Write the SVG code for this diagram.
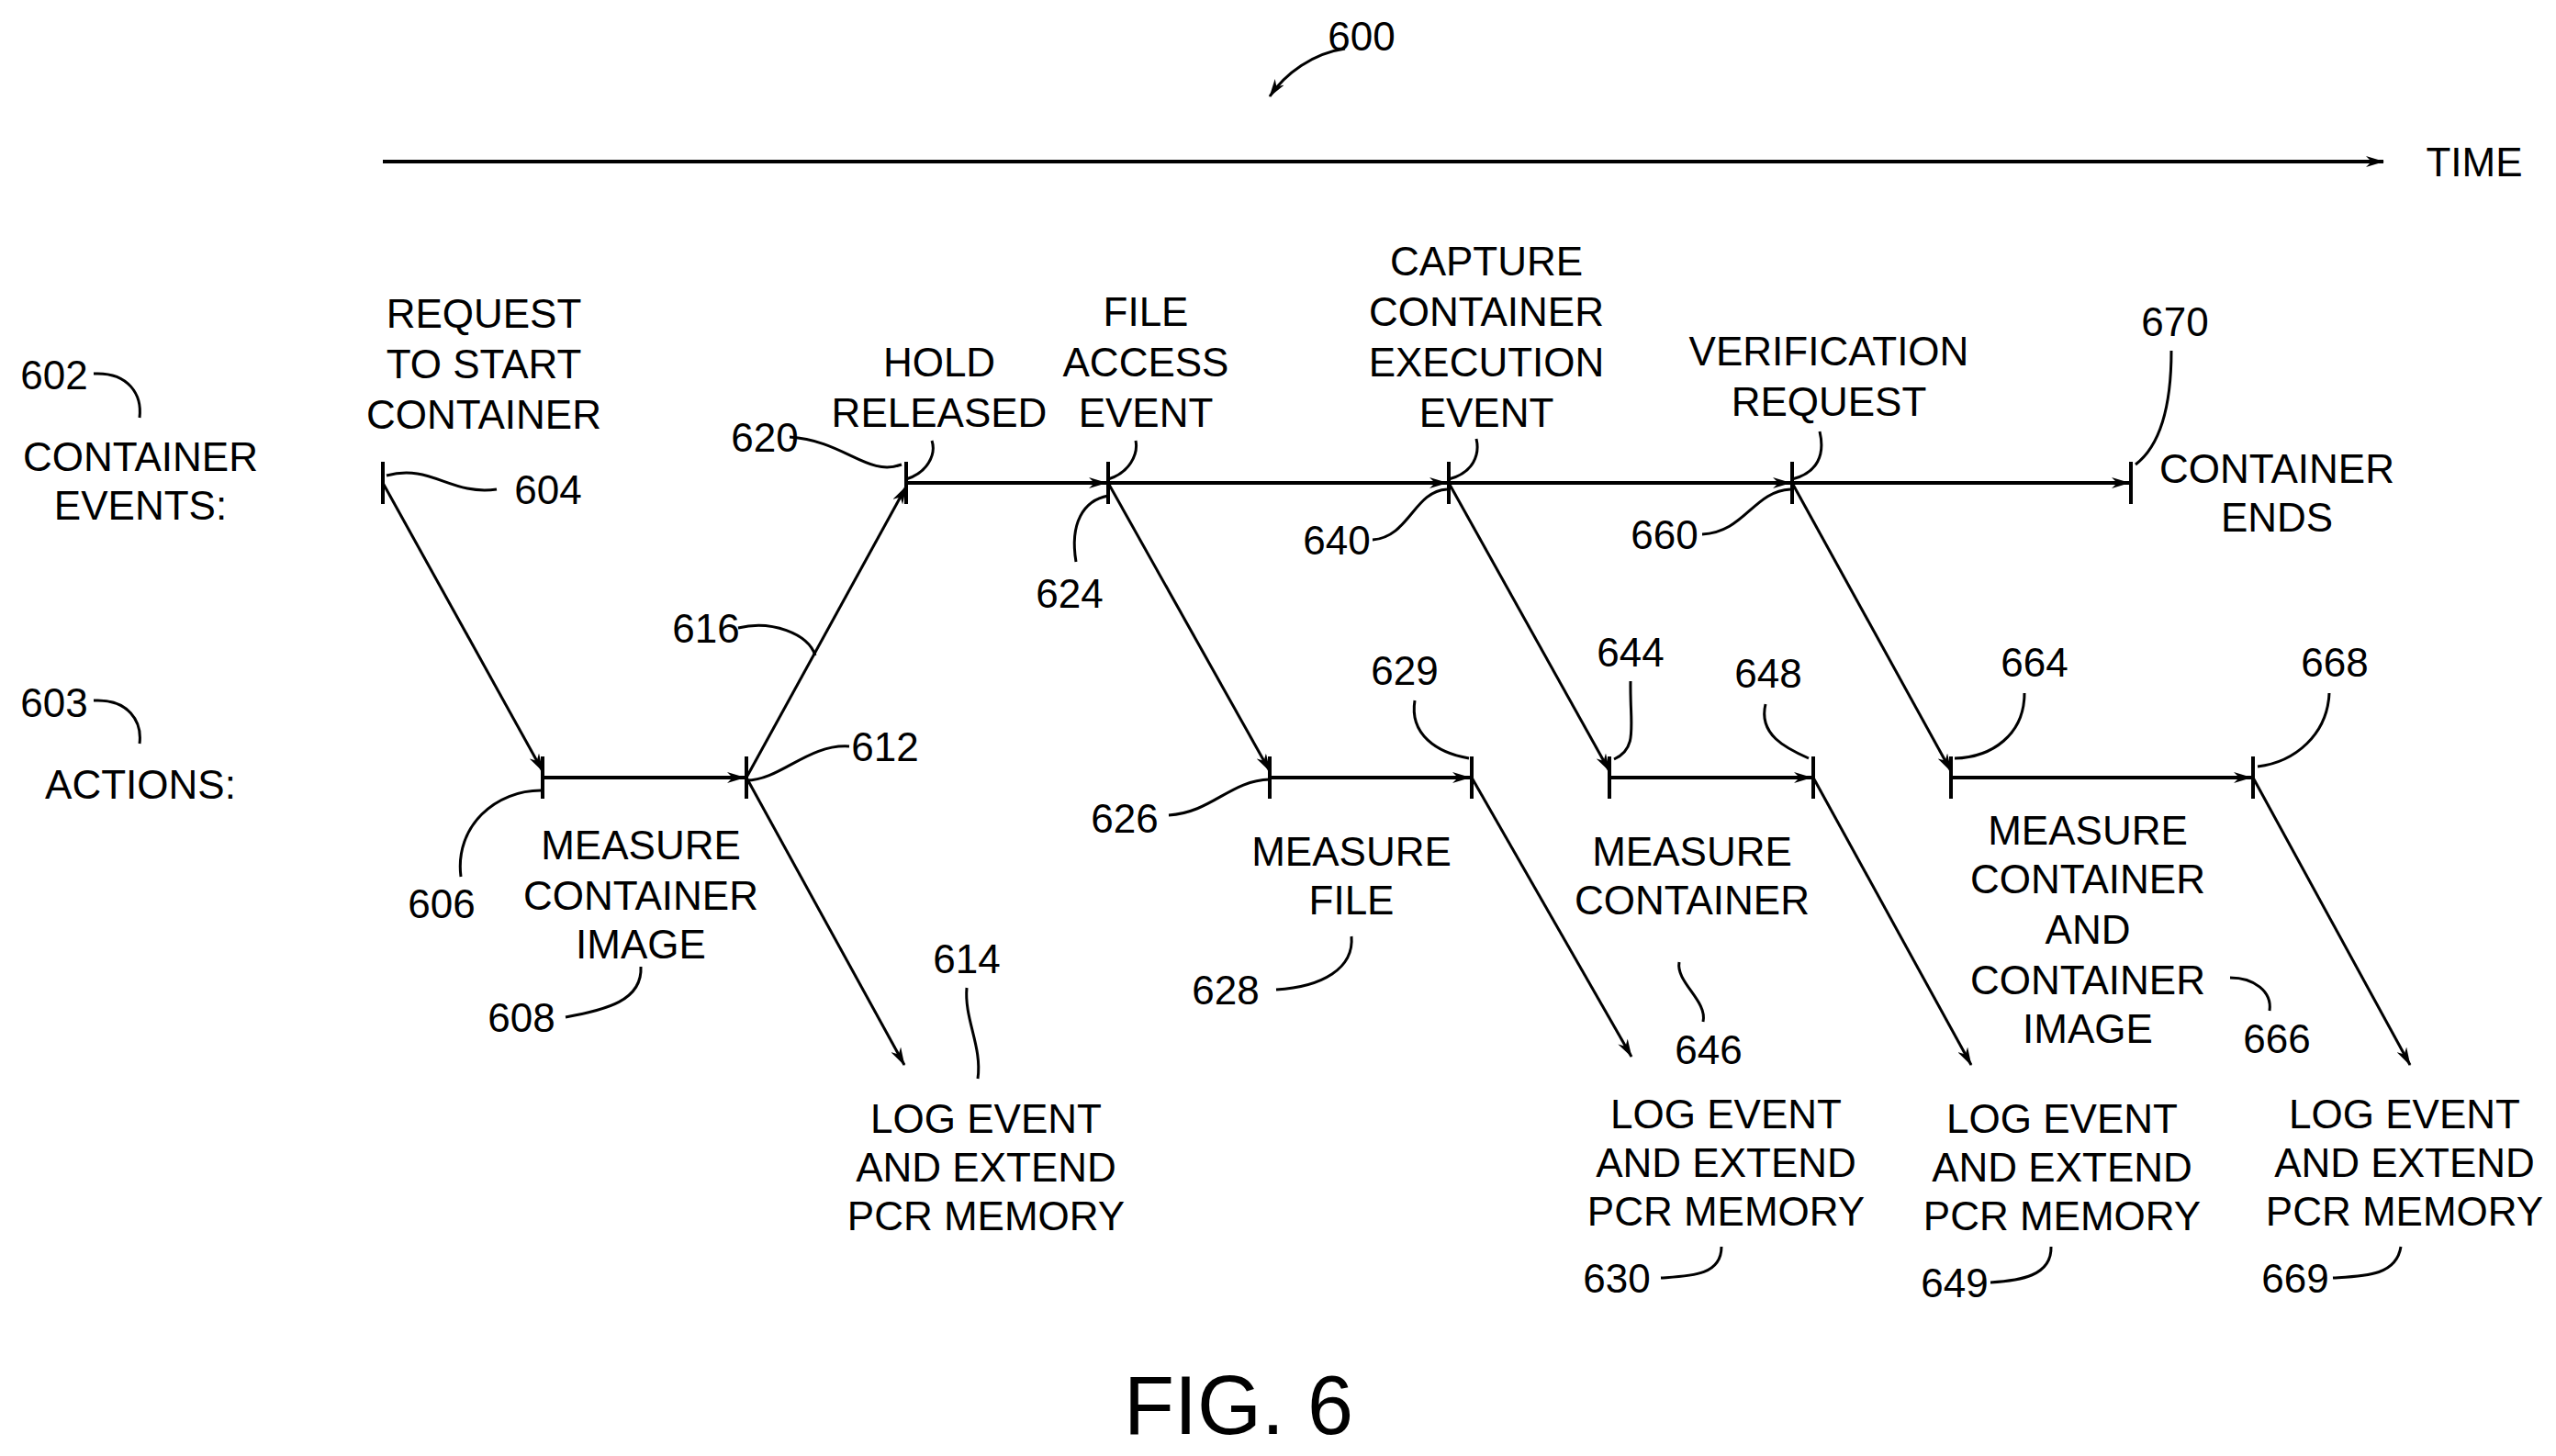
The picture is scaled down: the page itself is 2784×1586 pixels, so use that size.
<svg xmlns="http://www.w3.org/2000/svg" width="2784" height="1586" viewBox="0 0 2784 1586">
<style>
text{font-family:"Liberation Sans",Arial,sans-serif;font-size:44px;fill:#000;text-anchor:middle}
.ln{stroke:#000;stroke-width:4;fill:none}
.ar{stroke:#000;stroke-width:3;fill:none}
.ld{stroke:#000;stroke-width:3;fill:none}
.tk{stroke:#000;stroke-width:4}
</style>
<defs>
<marker id="a" viewBox="0 0 20 12" refX="19" refY="6" markerWidth="20" markerHeight="12" markerUnits="userSpaceOnUse" orient="auto"><path d="M0,0 L20,6 L0,12 L6,6 Z" fill="#000"/></marker>
</defs>
<rect width="2784" height="1586" fill="#fff"/>
<g id="connectors">
<line class="ln" x1="417" y1="176" x2="2596" y2="176" marker-end="url(#a)"/>
<path class="ld" d="M1465,53 C1430,58 1400,80 1383,105" marker-end="url(#a)"/>
<line class="ln" x1="987" y1="526" x2="1205" y2="526" marker-end="url(#a)"/>
<line class="ln" x1="1207" y1="526" x2="1576" y2="526" marker-end="url(#a)"/>
<line class="ln" x1="1578" y1="526" x2="1950" y2="526" marker-end="url(#a)"/>
<line class="ln" x1="1952" y1="526" x2="2319" y2="526" marker-end="url(#a)"/>
<line class="ln" x1="591" y1="847" x2="811" y2="847" marker-end="url(#a)"/>
<line class="ln" x1="1383" y1="847" x2="1601" y2="847" marker-end="url(#a)"/>
<line class="ln" x1="1753" y1="847" x2="1973" y2="847" marker-end="url(#a)"/>
<line class="ln" x1="2125" y1="847" x2="2452" y2="847" marker-end="url(#a)"/>
<line class="ar" x1="417" y1="526" x2="591" y2="840" marker-end="url(#a)"/>
<line class="ar" x1="813" y1="847" x2="987" y2="530" marker-end="url(#a)"/>
<line class="ar" x1="813" y1="847" x2="985" y2="1160" marker-end="url(#a)"/>
<line class="ar" x1="1207" y1="526" x2="1383" y2="840" marker-end="url(#a)"/>
<line class="ar" x1="1603" y1="847" x2="1777" y2="1151" marker-end="url(#a)"/>
<line class="ar" x1="1578" y1="526" x2="1753" y2="840" marker-end="url(#a)"/>
<line class="ar" x1="1975" y1="847" x2="2147" y2="1160" marker-end="url(#a)"/>
<line class="ar" x1="1952" y1="526" x2="2125" y2="840" marker-end="url(#a)"/>
<line class="ar" x1="2454" y1="847" x2="2625" y2="1160" marker-end="url(#a)"/>
<!-- leaders -->
<path class="ld" d="M102,407 C140,405 155,430 152,455"/>
<path class="ld" d="M102,763 C140,761 155,786 152,810"/>
<path class="ld" d="M421,518 C470,505 490,540 541,533"/>
<path class="ld" d="M591,861 C540,860 495,900 502,955"/>
<path class="ld" d="M616,1108 C660,1100 700,1090 698,1053"/>
<path class="ld" d="M813,850 C850,850 880,810 925,813"/>
<path class="ld" d="M1053,1076 C1050,1110 1070,1140 1065,1175"/>
<path class="ld" d="M804,684 C840,675 880,690 888,714"/>
<path class="ld" d="M860,476 C920,480 945,520 982,506"/>
<path class="ld" d="M987,522 C1010,515 1020,495 1015,480"/>
<path class="ld" d="M1172,612 C1165,570 1180,545 1207,540"/>
<path class="ld" d="M1207,522 C1230,515 1240,495 1237,480"/>
<path class="ld" d="M1273,888 C1320,885 1340,850 1383,849"/>
<path class="ld" d="M1390,1078 C1440,1075 1475,1055 1472,1020"/>
<path class="ld" d="M1541,763 C1535,800 1565,820 1600,826"/>
<path class="ld" d="M1495,588 C1535,585 1540,535 1576,533"/>
<path class="ld" d="M1578,522 C1605,515 1612,495 1608,478"/>
<path class="ld" d="M1776,742 C1775,790 1785,815 1758,827"/>
<path class="ld" d="M1855,1113 C1860,1090 1825,1070 1829,1048"/>
<path class="ld" d="M1923,767 C1915,800 1945,815 1970,826"/>
<path class="ld" d="M2168,1397 C2200,1395 2235,1390 2234,1358"/>
<path class="ld" d="M1809,1392 C1840,1390 1875,1390 1875,1358"/>
<path class="ld" d="M1854,582 C1900,580 1910,535 1950,533"/>
<path class="ld" d="M1952,522 C1980,515 1988,495 1982,470"/>
<path class="ld" d="M2205,755 C2205,800 2170,825 2129,826"/>
<path class="ld" d="M2472,1101 C2475,1080 2455,1065 2429,1065"/>
<path class="ld" d="M2537,755 C2535,800 2500,830 2459,835"/>
<path class="ld" d="M2541,1392 C2575,1390 2610,1390 2615,1358"/>
<path class="ld" d="M2365,382 C2365,420 2360,480 2326,506"/>
</g>
<g id="ticks">
<line class="tk" x1="417" y1="503" x2="417" y2="549"/>
<line class="tk" x1="987" y1="503" x2="987" y2="549"/>
<line class="tk" x1="1207" y1="503" x2="1207" y2="549"/>
<line class="tk" x1="1578" y1="503" x2="1578" y2="549"/>
<line class="tk" x1="1952" y1="503" x2="1952" y2="549"/>
<line class="tk" x1="2321" y1="503" x2="2321" y2="549"/>
<line class="tk" x1="591" y1="824" x2="591" y2="870"/>
<line class="tk" x1="813" y1="824" x2="813" y2="870"/>
<line class="tk" x1="1383" y1="824" x2="1383" y2="870"/>
<line class="tk" x1="1603" y1="824" x2="1603" y2="870"/>
<line class="tk" x1="1753" y1="824" x2="1753" y2="870"/>
<line class="tk" x1="1975" y1="824" x2="1975" y2="870"/>
<line class="tk" x1="2125" y1="824" x2="2125" y2="870"/>
<line class="tk" x1="2454" y1="824" x2="2454" y2="870"/>
</g>
<g id="labels">
<text x="1483" y="55">600</text>
<text x="2695" y="192">TIME</text>
<text x="59" y="424">602</text>
<text x="153" y="513">CONTAINER</text><text x="153" y="566">EVENTS:</text>
<text x="59" y="781">603</text>
<text x="153" y="870">ACTIONS:</text>
</g>
<g id="n604"><text x="527" y="357">REQUEST</text><text x="527" y="412">TO START</text><text x="527" y="467">CONTAINER</text><text x="597" y="549">604</text></g>
<g id="n606"><text x="481" y="1000">606</text></g>
<g id="n608"><text x="698" y="936">MEASURE</text><text x="698" y="991">CONTAINER</text><text x="698" y="1044">IMAGE</text><text x="568" y="1124">608</text></g>
<g id="n612"><text x="964" y="829">612</text></g>
<g id="n614"><text x="1053" y="1060">614</text><text x="1074" y="1234">LOG EVENT</text><text x="1074" y="1287">AND EXTEND</text><text x="1074" y="1340">PCR MEMORY</text></g>
<g id="n616"><text x="769" y="700">616</text></g>
<g id="n620"><text x="833" y="492">620</text><text x="1023" y="410">HOLD</text><text x="1023" y="465">RELEASED</text></g>
<g id="n624"><text x="1248" y="355">FILE</text><text x="1248" y="410">ACCESS</text><text x="1248" y="465">EVENT</text><text x="1165" y="662">624</text></g>
<g id="n626"><text x="1225" y="907">626</text></g>
<g id="n628"><text x="1472" y="943">MEASURE</text><text x="1472" y="996">FILE</text><text x="1335" y="1094">628</text></g>
<g id="n629"><text x="1530" y="746">629</text></g>
<g id="n630"><text x="1880" y="1229">LOG EVENT</text><text x="1880" y="1282">AND EXTEND</text><text x="1880" y="1335">PCR MEMORY</text><text x="1761" y="1408">630</text></g>
<g id="n640"><text x="1619" y="300">CAPTURE</text><text x="1619" y="355">CONTAINER</text><text x="1619" y="410">EXECUTION</text><text x="1619" y="465">EVENT</text><text x="1456" y="604">640</text></g>
<g id="n644"><text x="1776" y="726">644</text></g>
<g id="n646"><text x="1843" y="943">MEASURE</text><text x="1843" y="996">CONTAINER</text><text x="1861" y="1159">646</text></g>
<g id="n648"><text x="1926" y="749">648</text></g>
<g id="n649"><text x="2246" y="1234">LOG EVENT</text><text x="2246" y="1287">AND EXTEND</text><text x="2246" y="1340">PCR MEMORY</text><text x="2129" y="1413">649</text></g>
<g id="n660"><text x="1992" y="398">VERIFICATION</text><text x="1992" y="453">REQUEST</text><text x="1813" y="598">660</text></g>
<g id="n664"><text x="2216" y="737">664</text></g>
<g id="n666"><text x="2274" y="920">MEASURE</text><text x="2274" y="973">CONTAINER</text><text x="2274" y="1028">AND</text><text x="2274" y="1083">CONTAINER</text><text x="2274" y="1136">IMAGE</text><text x="2480" y="1147">666</text></g>
<g id="n668"><text x="2543" y="737">668</text></g>
<g id="n669"><text x="2619" y="1229">LOG EVENT</text><text x="2619" y="1282">AND EXTEND</text><text x="2619" y="1335">PCR MEMORY</text><text x="2500" y="1408">669</text></g>
<g id="n670"><text x="2369" y="366">670</text><text x="2480" y="526">CONTAINER</text><text x="2480" y="579">ENDS</text></g>
<text x="1349" y="1562" style="font-size:90px">FIG. 6</text>
</svg>
